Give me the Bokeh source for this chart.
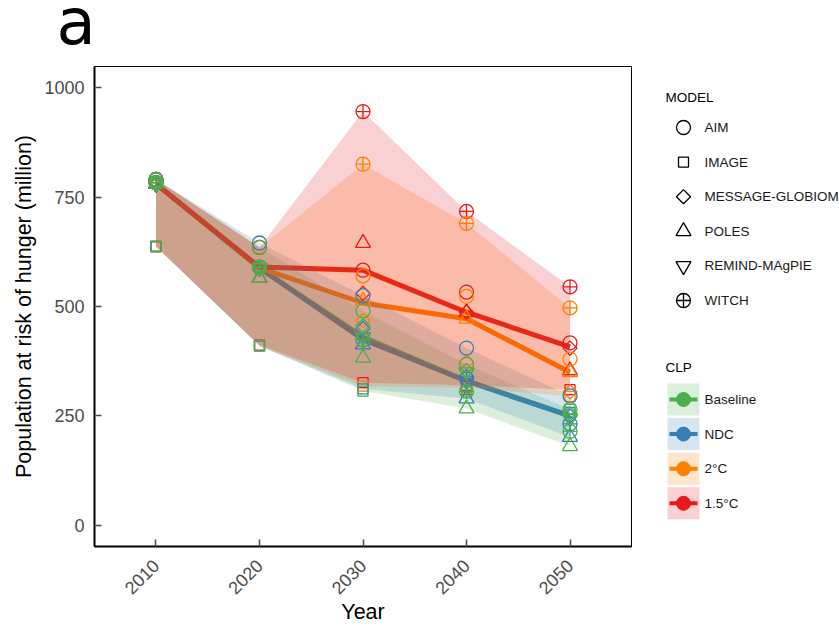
import numpy as np
from bokeh.core.properties import value
from bokeh.embed import file_html
from bokeh.layouts import column, row
from bokeh.models import FixedTicker, Range1d
from bokeh.plotting import figure
from bokeh.resources import INLINE

nan = np.nan
years = [2010, 2020, 2030, 2040, 2050]
y_ticks = [0, 250, 500, 750, 1000]

clps = ["Baseline", "NDC", "2°C", "1.5°C"]
models = ["AIM", "IMAGE", "MESSAGE-GLOBIOM", "POLES", "REMIND-MAgPIE", "WITCH"]

# median lines
line_base = [780, 588, 430, 330, 250]
line_ndc = [780, 588, 425, 330, 250]
line_2c = [780, 588, 508, 472, 350]
line_15c = [780, 590, 583, 487, 408]

base_aim = [790, 635, 490, 368, 265]
base_image = [637, 410, 307, 305, 265]
base_message = [783, 588, 456, 354, 255]
base_poles = [780, 565, 383, 267, 181]
base_remind = [780, 588, 430, 350, 245]
base_witch = [783, 590, 424, 306, 215]

ndc_aim = [790, 645, 525, 405, 296]
ndc_image = [637, 410, 312, 310, 258]
ndc_message = [783, 588, 450, 340, 250]
ndc_poles = [780, 565, 413, 290, 202]
ndc_remind = [780, 588, 430, 330, 245]
ndc_witch = [783, 590, 424, 335, 232]

c2_aim = [790, 635, 570, 523, 380]
c2_image = [637, 410, 318, 315, 295]
c2_message = [783, 588, 468, 373, 305]
c2_poles = [780, 565, 513, 472, 350]
c2_remind = [780, 588, nan, nan, nan]
c2_witch = [783, 590, 825, 690, 497]

c15_aim = [790, 635, 583, 533, 417]
c15_image = [637, 412, 326, 320, 310]
c15_message = [783, 588, 530, 487, 405]
c15_poles = [780, 565, 645, 487, 354]
c15_remind = [780, 588, nan, nan, nan]
c15_witch = [783, 590, 945, 717, 545]

colors = ["#4DAF4A", "#377EB8", "#FF7F00", "#E41A1C"]
lines = [line_base, line_ndc, line_2c, line_15c]
series = [
    [base_aim, base_image, base_message, base_poles, base_remind, base_witch],
    [ndc_aim, ndc_image, ndc_message, ndc_poles, ndc_remind, ndc_witch],
    [c2_aim, c2_image, c2_message, c2_poles, c2_remind, c2_witch],
    [c15_aim, c15_image, c15_message, c15_poles, c15_remind, c15_witch],
]

SANS = "Liberation Sans"
GREY = "#4D4D4D"

# marker, size, angle for each model
SHAPES = [
    ("circle", 14, 0),
    ("square", 10, 0),
    ("square", 10, np.pi / 4),
    ("triangle", 15, 0),
    ("inverted_triangle", 15, 0),
    ("circle_cross", 14, 0),
]


def add_marks(fig, x, y, shape, color):
    marker, size, angle = shape
    fig.scatter(x, y, marker=marker, size=size, angle=angle,
                fill_color=None, line_color=color, line_width=1.3)


# strip above the plot for the panel letter
head = figure(width=839, height=65, output_backend="svg", toolbar_location=None,
              x_range=Range1d(0, 839), y_range=Range1d(65, 0),
              min_border=0, outline_line_color=None)
head.frame_align = False
head.axis.visible = False
head.grid.visible = False
head.text([56], [21], text=["a"], text_font=value("DejaVu Sans"), text_font_size="64px",
          text_baseline="alphabetic", text_color="black")

p = figure(width=640, height=564, output_backend="svg", toolbar_location=None,
           x_range=Range1d(2004.06, 2055.94), y_range=Range1d(-48, 1048),
           min_border_left=94, min_border_right=9, min_border_top=1, min_border_bottom=83,
           x_axis_label="Year", y_axis_label="Population at risk of hunger (million)")
p.frame_align = False
p.grid.visible = False
p.outline_line_color = "black"
p.outline_line_width = 1
p.background_fill_color = "white"

p.xaxis.ticker = FixedTicker(ticks=years)
p.yaxis.ticker = FixedTicker(ticks=y_ticks)
p.xaxis.major_label_orientation = np.pi / 4
p.axis.major_tick_in = 7
p.axis.major_tick_out = 0
p.xaxis.major_label_standoff = 16
p.yaxis.major_label_standoff = 10
p.xaxis.axis_label_standoff = -3
p.axis.minor_tick_line_color = None
p.axis.axis_line_color = "black"
p.axis.axis_line_width = 2
p.axis.major_tick_line_color = GREY
p.axis.major_tick_line_width = 1.5
p.axis.major_label_text_font = SANS
p.axis.major_label_text_font_size = "18px"
p.axis.major_label_text_color = GREY
p.axis.axis_label_text_font = SANS
p.axis.axis_label_text_font_size = "21.5px"
p.axis.axis_label_text_font_style = "normal"
p.axis.axis_label_text_color = "black"

# lines go under the ribbons, so they pick up the ribbon tints
for vals, color in zip(lines, colors):
    p.line(years, vals, line_color=color, line_width=5)

for group, color in zip(series, colors):
    table = np.array(group, dtype=float)
    p.varea(years, np.nanmin(table, axis=0), np.nanmax(table, axis=0),
            fill_color=color, fill_alpha=0.2)

for group, color in reversed(list(zip(series, colors))):
    for vals, shape in zip(group, SHAPES):
        add_marks(p, years, vals, shape, color)

# legends live in their own panel, its ranges follow page pixels
leg = figure(width=199, height=564, output_backend="svg", toolbar_location=None,
             x_range=Range1d(640, 839), y_range=Range1d(629, 65),
             min_border=0, outline_line_color=None)
leg.frame_align = False
leg.axis.visible = False
leg.grid.visible = False

model_y = [127 + 34.6 * i for i in range(len(models))]
clp_y = [399 + 34.6 * i for i in range(len(clps))]

leg.text([665], [97], text=["MODEL"], text_font=value(SANS), text_font_size="13.5px",
         text_baseline="middle", text_color="black")
for yy, shape in zip(model_y, SHAPES):
    add_marks(leg, [683], [yy], shape, "black")
leg.text([704] * len(models), model_y, text=models, text_font=value(SANS), text_font_size="13.5px",
         text_baseline="middle", text_color="#1A1A1A")

leg.text([665], [367], text=["CLP"], text_font=value(SANS), text_font_size="13.5px",
         text_baseline="middle", text_color="black")
for yy, color in zip(clp_y, colors):
    leg.scatter([683], [yy], marker="square", size=32, fill_color=color, fill_alpha=0.2, line_color=None)
    leg.scatter([683], [yy], marker="dash", size=28, line_color=color, line_width=4)
    leg.scatter([683], [yy], marker="circle", size=14, fill_color=color, line_color=color)
leg.text([704] * len(clps), clp_y, text=clps, text_font=value(SANS), text_font_size="13.5px",
         text_baseline="middle", text_color="#1A1A1A")

layout = column(head, row(p, leg, spacing=0), spacing=0)
open("out.html", "w").write(file_html(layout, INLINE))
